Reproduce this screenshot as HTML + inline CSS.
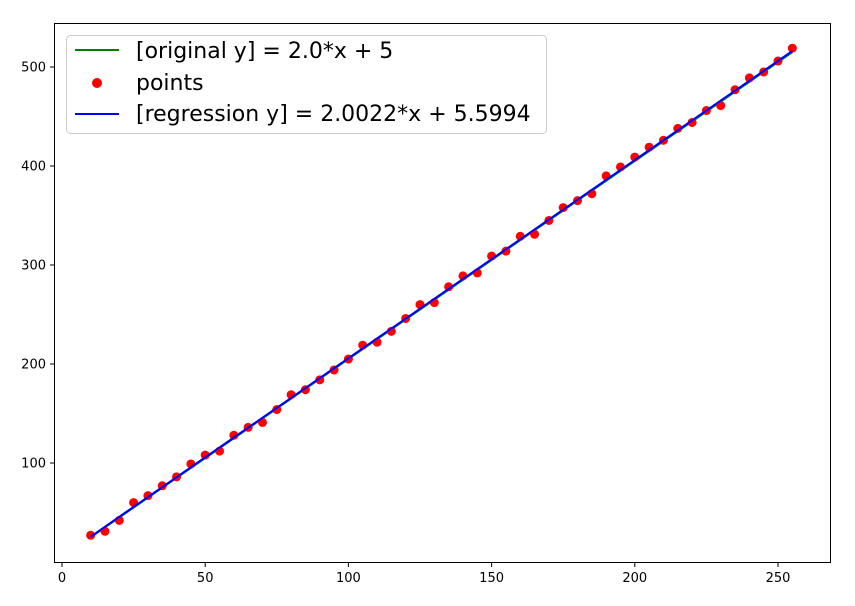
<!DOCTYPE html>
<html><head><meta charset="utf-8"><style>
body{margin:0;background:#fff;}
svg text{font-family:"DejaVu Sans","Liberation Sans",sans-serif;}
</style></head><body>
<svg id="chart" width="855" height="601" xmlns="http://www.w3.org/2000/svg">
<rect width="855" height="601" fill="#fff"/>
<g id="plot"></g>
<g id="axes"></g>
<g id="legend">
<rect x="66.5" y="35.5" width="480" height="98" rx="4" fill="#fff" fill-opacity="0.8" stroke="#ccc"/>
<line x1="75" y1="50" x2="119" y2="50" stroke="green" stroke-width="2"/>
<text x="136" y="58" font-size="22">[original y] = 2.0*x + 5</text>
<circle cx="97" cy="83" r="5" fill="red"/>
<text x="136" y="90" font-size="22">points</text>
<line x1="75" y1="114" x2="119" y2="114" stroke="blue" stroke-width="2"/>
<text x="136" y="121" font-size="22">[regression y] = 2.0022*x + 5.5994</text>
</g>
</svg>
<script>
const xs=[10,15,20,25,30,35,40,45,50,55,60,65,70,75,80,85,90,95,100,105,110,115,120,125,130,135,140,145,150,155,160,165,170,175,180,185,190,195,200,205,210,215,220,225,230,235,240,245,250,255];
const ys=[27,31,42,60,67,77,86,99,108,112,128,136,141,154,169,174,184,194,205,219,222,233,246,260,262,278,289,292,309,314,329,331,345,358,365,372,390,399,409,419,426,438,444,456,461,477,489,495,506,519];
const xTicks=[0,50,100,150,200,250];
const yTicks=[100,200,300,400,500];
const origCoef=[2.0,5];
const regCoef=[2.0022,5.5994];
const NS="http://www.w3.org/2000/svg";
const X=v=>62+v*2.864;
const Y=v=>562-v*0.99;
const plot=document.getElementById('plot'),axes=document.getElementById('axes');
function mk(tag,attrs,parent){const e=document.createElementNS(NS,tag);for(const k in attrs)e.setAttribute(k,attrs[k]);parent.appendChild(e);return e;}
const x0=xs[0],x1=xs[xs.length-1];
const lo=mk('line',{x1:X(x0),y1:Y(origCoef[0]*x0+origCoef[1]),x2:X(x1),y2:Y(origCoef[0]*x1+origCoef[1]),stroke:'green','stroke-width':2},plot);


xs.forEach((x,i)=>{const c=mk('circle',{cx:X(x),cy:Y(ys[i]),r:4.5,fill:'red'},plot);

});
const lr=mk('line',{x1:X(x0),y1:Y(regCoef[0]*x0+regCoef[1]),x2:X(x1),y2:Y(regCoef[0]*x1+regCoef[1]),stroke:'blue','stroke-width':2},plot);


const fr=mk('rect',{x:54.5,y:23.5,width:776,height:539,fill:'none',stroke:'#000','stroke-width':1},axes);


xTicks.forEach(t=>{mk('line',{x1:X(t),y1:562.5,x2:X(t),y2:567,stroke:'#000'},axes);
const tx=mk('text',{x:X(t),y:582,'font-size':13,'text-anchor':'middle'},axes);tx.textContent=t;

});
yTicks.forEach(t=>{mk('line',{x1:50,y1:Y(t),x2:54.5,y2:Y(t),stroke:'#000'},axes);
const tx=mk('text',{x:46,y:Y(t)+4.5,'font-size':13,'text-anchor':'end'},axes);tx.textContent=t;

});
</script>
</body></html>
